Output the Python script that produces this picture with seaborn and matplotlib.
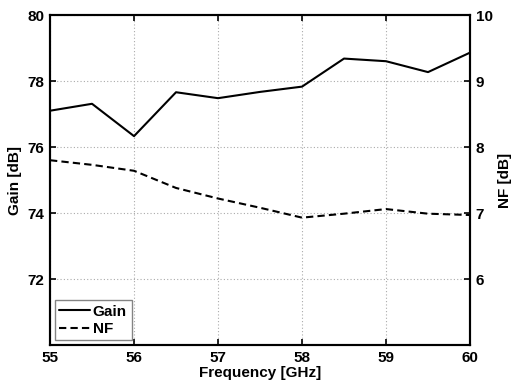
import matplotlib
matplotlib.use("Agg")
import matplotlib.pyplot as plt
import seaborn as sns
import pandas as pd

freq = [55, 55.5, 56, 56.5, 57, 57.5, 58, 58.5, 59, 59.5, 60]
gain = [77.10, 77.31, 76.33, 77.66, 77.48, 77.67, 77.83, 78.68, 78.60, 78.27, 78.86]
nf = [7.80, 7.73, 7.64, 7.38, 7.22, 7.08, 6.93, 6.99, 7.06, 6.99, 6.97]
gain_ticks = [72, 74, 76, 78, 80]
nf_ticks = [6, 7, 8, 9, 10]
freq_ticks = [55, 56, 57, 58, 59, 60]

sns.set_style("ticks")
plt.rcParams['font.family'] = ['Liberation Sans', 'DejaVu Sans']
plt.rcParams['font.weight'] = 'bold'
plt.rcParams['axes.labelweight'] = 'bold'
plt.rcParams['text.color'] = 'black'
plt.rcParams['axes.labelcolor'] = 'black'
plt.rcParams['xtick.color'] = 'black'
plt.rcParams['ytick.color'] = 'black'
plt.rcParams['xtick.labelcolor'] = 'black'
plt.rcParams['ytick.labelcolor'] = 'black'

df = pd.DataFrame({"freq": freq, "gain": gain, "nf": nf})

fig = plt.figure(figsize=(5.12, 3.8), dpi=100)
ax = fig.add_axes([0.0977, 0.092, 0.8203, 0.8685])
ax2 = ax.twinx()

sns.lineplot(data=df, x="freq", y="gain", ax=ax, color="black", lw=1.5, label="Gain", legend=False)
sns.lineplot(data=df, x="freq", y="nf", ax=ax2, color="black", lw=1.5, linestyle=(0, (3.5, 2)), label="NF", legend=False)

ax.set_xlim(55, 60)
ax.set_ylim(70, 80)
ax2.set_ylim(5, 10)
ax.set_xticks(freq_ticks)
ax.set_yticks(gain_ticks)
ax2.set_yticks(nf_ticks)
ax.set_xticklabels([str(v) for v in freq_ticks])
ax.set_yticklabels([str(v) for v in gain_ticks])
ax2.set_yticklabels([str(v) for v in nf_ticks])

ax.grid(True, color="#aaaaaa", linestyle=(0, (1, 2)), lw=0.8)
ax.tick_params(axis="both", direction="in", length=4, width=1.2, labelsize=11, top=True, right=False, pad=4,
               colors="black")
ax2.tick_params(axis="y", direction="in", length=4, width=1.2, labelsize=11, pad=4, colors="black")
for t in ax.get_xticklabels() + ax.get_yticklabels() + ax2.get_yticklabels():
    t.set_fontweight("bold")
    t.set_color("black")

for a in (ax, ax2):
    for s in a.spines.values():
        s.set_linewidth(1.5)
        s.set_color("black")

ax.set_xlabel("Frequency [GHz]", fontsize=11, fontweight="bold", labelpad=1, color="black")
ax.set_ylabel("Gain [dB]", fontsize=11, fontweight="bold", labelpad=4, color="black")
ax2.set_ylabel("NF [dB]", fontsize=11, fontweight="bold", labelpad=4, color="black")

h1, l1 = ax.get_legend_handles_labels()
h2, l2 = ax2.get_legend_handles_labels()
leg = ax2.legend(h1 + h2, l1 + l2, loc="lower left", fontsize=11, frameon=True, fancybox=False,
                 borderaxespad=0.3, handlelength=2.0, handletextpad=0.2, borderpad=0.3, labelspacing=0.2)
leg.get_frame().set_edgecolor("#666666")
leg.get_frame().set_linewidth(1.0)
for t in leg.get_texts():
    t.set_fontweight("bold")
    t.set_color("black")

fig.savefig("out.png", dpi=100)
